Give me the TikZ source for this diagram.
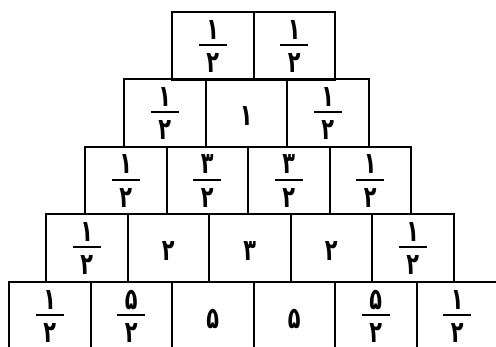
\documentclass[tikz,border=0pt]{standalone}
\usepackage{graphicx}
\usepackage{fontspec}
\newfontfamily\pf[Script=Arabic]{DejaVu Sans}
\tikzset{
  cell/.style={draw=black, line width=2pt, minimum width=81.5pt, minimum height=67.5pt, inner sep=0pt, anchor=north west},
  dig/.style={inner sep=0pt, anchor=base, font=\pf\bfseries\fontsize{26}{30}\selectfont},
  fbar/.style={line width=1.8pt}
}
\newcommand\tall[1]{\scalebox{0.8}[1.15]{#1}}
\newcommand\frc[3]{%
  \node[dig] (#1n) at ([yshift=6.5pt]#1.center) {\tall{#2}};
  \draw[fbar] ([xshift=-14pt,yshift=0.5pt]#1.center) -- ([xshift=14pt,yshift=0.5pt]#1.center);
  \node[dig] (#1d) at ([yshift=-27pt]#1.center) {\tall{#3}};}
\newcommand\one[2]{\node[dig] (#1t) at ([yshift=-12.5pt]#1.center) {\tall{#2}};}
\begin{document}
\begin{tikzpicture}[x=1pt,y=-1pt]
\useasboundingbox (0,0) rectangle (496,346);
\clip (0,0) rectangle (496,346);
% row 1
\node[cell] (a1) at (171,11) {};
\node[cell] (a2) at (252.5,11) {};
% row 2
\node[cell] (b1) at (123,78) {};
\node[cell] (b2) at (204.5,78) {};
\node[cell] (b3) at (286,78) {};
% row 3
\node[cell] (c1) at (84,145.5) {};
\node[cell] (c2) at (165.5,145.5) {};
\node[cell] (c3) at (247,145.5) {};
\node[cell] (c4) at (328.5,145.5) {};
% row 4
\node[cell] (d1) at (45,213) {};
\node[cell] (d2) at (126.5,213) {};
\node[cell] (d3) at (208,213) {};
\node[cell] (d4) at (289.5,213) {};
\node[cell] (d5) at (371,213) {};
% row 5
\node[cell] (e1) at (8,281) {};
\node[cell] (e2) at (89.5,281) {};
\node[cell] (e3) at (171,281) {};
\node[cell] (e4) at (252.5,281) {};
\node[cell] (e5) at (334,281) {};
\node[cell] (e6) at (415.5,281) {};
% texts
\frc{a1}{۱}{۲} \frc{a2}{۱}{۲}
\frc{b1}{۱}{۲} \one{b2}{۱} \frc{b3}{۱}{۲}
\frc{c1}{۱}{۲} \frc{c2}{۳}{۲} \frc{c3}{۳}{۲} \frc{c4}{۱}{۲}
\frc{d1}{۱}{۲} \one{d2}{۲} \one{d3}{۳} \one{d4}{۲} \frc{d5}{۱}{۲}
\frc{e1}{۱}{۲} \frc{e2}{۵}{۲} \one{e3}{۵} \one{e4}{۵} \frc{e5}{۵}{۲} \frc{e6}{۱}{۲}
\end{tikzpicture}
\end{document}
